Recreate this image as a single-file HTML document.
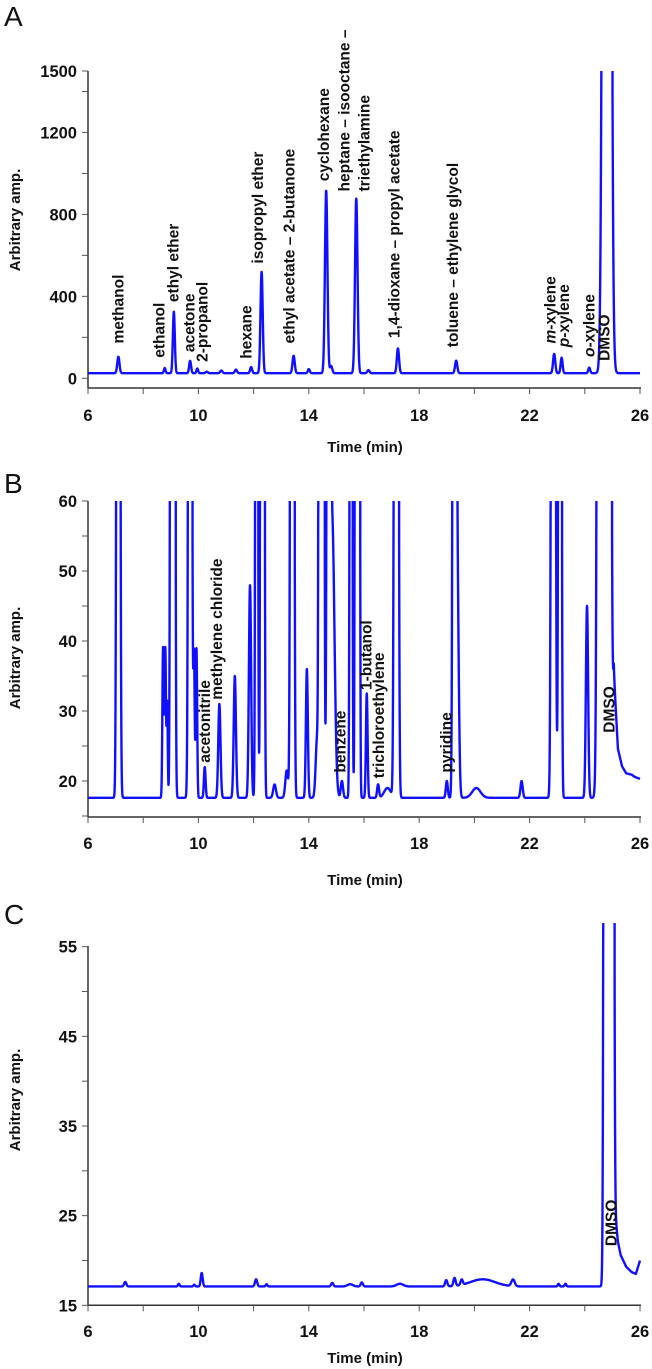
<!DOCTYPE html>
<html><head><meta charset="utf-8"><style>
html,body{margin:0;padding:0;background:#fff;}
svg{display:block;font-family:"Liberation Sans",Arial,sans-serif;}
.tl{font-weight:bold;font-size:16.5px;fill:#111;}
.pl{font-weight:bold;font-size:15.5px;fill:#111;}
.at{font-weight:bold;font-size:15px;fill:#111;}
</style></head><body>
<svg id="chart" width="652" height="1369" viewBox="0 0 652 1369">
<defs>
<clipPath id="clipA"><rect x="86" y="69" width="560" height="330"/></clipPath>
<clipPath id="clipB"><rect x="86" y="500" width="560" height="320"/></clipPath>
<clipPath id="clipC"><rect x="86" y="922" width="560" height="390"/></clipPath>
</defs>
<text x="4" y="26" font-size="28" fill="#111">A</text>
<text x="4" y="493" font-size="28" fill="#111">B</text>
<text x="4" y="924" font-size="28" fill="#111">C</text>
</svg>
<script>
// ---------- shared x axis ----------
const xTickValues = [6,8,10,12,14,16,18,20,22,24,26];
const xTickLabels = ["6","","10","","14","","18","","22","","26"];

// ---------- Panel A data ----------
const aBaseline = 25;
const aPeakTimes   = [7.10,8.78,9.11,9.70,9.96,10.3,10.83,11.36,11.91,12.29,13.45,14.0,14.63,14.81,15.72,16.16,17.23,19.34,22.89,23.16,24.16,24.8];
const aPeakHeights = [105,50,325,85,48,32,38,42,55,520,110,45,916,60,877,40,146,86,119,100,52,20000];
const aPeakWidths  = [0.04,0.03,0.035,0.035,0.03,0.04,0.04,0.04,0.035,0.04,0.04,0.035,0.045,0.04,0.045,0.04,0.04,0.04,0.04,0.035,0.035,0.088];
const aYTicks = [0,200,400,600,800,1000,1200,1400,1500];
const aYTickLabels = ["0","","400","","800","","1200","","1500"];
const aLabels = ["methanol","ethanol","ethyl ether","acetone","2-propanol","hexane","isopropyl ether","ethyl acetate – 2-butanone","cyclohexane","heptane – isooctane –","triethylamine","1,4-dioxane – propyl acetate","toluene – ethylene glycol","m-xylene","p-xylene","o-xylene","DMSO"];
const aLabelTimes = [7.13,8.61,9.11,9.69,10.17,11.76,12.18,13.31,14.56,15.32,16.04,17.13,19.25,22.76,23.24,24.17,24.74];
const aLabelValues = [170,100,372,128,80,95,560,170,962,912,912,196,152,170,152,104,85];

// ---------- Panel B data ----------
const bBaseline = 17.6;
const bPeakTimes   = [7.10,8.72,8.80,8.87,9.07,9.70,9.84,9.93,10.23,10.76,11.32,11.87,12.11,12.32,12.76,13.20,13.40,13.93,14.30,14.46,14.72,14.85,15.20,15.53,15.76,16.10,16.51,16.85,17.17,19.00,19.28,19.38,20.07,21.71,22.86,23.10,24.08,24.70];
const bPeakHeights = [400,39,39,31,1500,400,38,39,22,31,35,48,300,1200,19.5,21.5,500,36,26,3000,400,57,20,300,3000,32.5,19.5,19,500,20,400,50,19,20,500,400,45,20000];
const bPeakWidths  = [0.04,0.025,0.025,0.02,0.04,0.04,0.025,0.025,0.03,0.04,0.04,0.04,0.03,0.035,0.05,0.05,0.04,0.035,0.05,0.04,0.04,0.08,0.04,0.03,0.035,0.03,0.035,0.12,0.045,0.035,0.04,0.05,0.15,0.04,0.045,0.035,0.04,0.08];
const bTailTimes  = [24.95,25.05,25.2,25.35,25.5,25.7,25.8,26.0];
const bTailValues = [0,18,7,4.5,3.5,3.3,3.0,2.7];
const bYTicks = [15,20,25,30,35,40,45,50,55,60];
const bYTickLabels = ["","20","","30","","40","","50","","60"];
const bLabels = ["acetonitrile","methylene chloride","benzene","1-butanol","trichloroethylene","pyridine","DMSO"];
const bLabelTimes = [10.25,10.70,15.17,16.10,16.56,19.01,24.91];
const bLabelValues = [22.6,31.6,21.2,33.0,20.4,21.2,26.9];

// ---------- Panel C data ----------
const cBaseline = 17.1;
const cPeakTimes   = [7.35,9.29,9.85,10.12,12.09,12.47,14.85,15.5,15.92,17.3,18.98,19.28,19.54,20.3,21.4,23.05,23.3,24.87];
const cPeakHeights = [17.6,17.4,17.3,18.6,17.9,17.35,17.5,17.35,17.55,17.4,17.8,18.0,17.7,17.9,17.85,17.4,17.4,20000];
const cPeakWidths  = [0.04,0.03,0.03,0.035,0.04,0.03,0.04,0.1,0.04,0.12,0.04,0.04,0.04,0.45,0.06,0.03,0.03,0.058];
const cTailTimes  = [25.0,25.1,25.2,25.3,25.5,25.7,25.85,26.0];
const cTailValues = [0,8,5,3.5,2.2,1.6,1.4,2.9];
const cYTicks = [15,20,25,30,35,40,45,50,55];
const cYTickLabels = ["15","","25","","35","","45","","55"];
const cLabels = ["DMSO"];
const cLabelTimes = [24.98];
const cLabelValues = [21.6];

const NS = "http://www.w3.org/2000/svg";
const svg = document.getElementById('chart');
function mk(tag, attrs, parent){
  const e = document.createElementNS(NS, tag);
  for (const k in attrs) e.setAttribute(k, attrs[k]);
  (parent||svg).appendChild(e);
  return e;
}
const X0 = 88, X1 = 640;
function xs(t){ return X0 + (t-6)/(26-6)*(X1-X0); }

function interp(ts, vs, t){
  if (t <= ts[0] || t >= ts[ts.length-1]) return t>=ts[ts.length-1]?vs[vs.length-1]:0;
  for (let i=1;i<ts.length;i++){ if (t<=ts[i]){ const f=(t-ts[i-1])/(ts[i]-ts[i-1]); return vs[i-1]+f*(vs[i]-vs[i-1]); } }
  return 0;
}

function panel(p){
  const ys = v => p.yBot + (v - p.vBot)/(p.vTop - p.vBot)*(p.yTop - p.yBot);
  const g = mk('g', {});
  
  
  const ya = mk('line', {x1:X0, y1:p.axisTop, x2:X0, y2:p.axisBot, stroke:'#333', 'stroke-width':1.5}, g);
  
  
  const xa = mk('line', {x1:X0, y1:p.axisBot, x2:X1+1, y2:p.axisBot, stroke:'#333', 'stroke-width':1.5}, g);
  
  
  p.yTicks.forEach((v,i)=>{
    const y = ys(v);
    const tk = mk('line', {x1:X0-6, y1:y, x2:X0, y2:y, stroke:'#555', 'stroke-width':1}, g);
    
    
    if (p.yTickLabels[i]) {
      const tl = mk('text', {x:X0-11, y:y+6, 'text-anchor':'end', class:'tl'}, g);
      tl.textContent = p.yTickLabels[i];
      
      
    }
  });
  xTickValues.forEach((v,i)=>{
    const x = xs(v);
    const tk = mk('line', {x1:x, y1:p.axisBot, x2:x, y2:p.axisBot+6, stroke:'#555', 'stroke-width':1}, g);
    
    
    if (xTickLabels[i]) {
      const tl = mk('text', {x:x, y:p.xLabY, 'text-anchor':'middle', class:'tl'}, g);
      tl.textContent = xTickLabels[i];
      
      
    }
  });
  const xt = mk('text', {x:365, y:p.xTitleY, 'text-anchor':'middle', class:'at'}, g);
  xt.textContent = 'Time (min)';
  
  
  const yt = mk('text', {x:0, y:0, 'text-anchor':'middle', class:'at', transform:`translate(20,${p.yTitleY}) rotate(-90)`}, g);
  yt.textContent = 'Arbitrary amp.';
  
  
  // trace (pen lifts where the signal goes off-scale)
  let d = '', penUp = true, prevX = null, prevY = null;
  for (let t=6; t<=26.0001; t+=0.004){
    let v = p.base;
    for (let i=0;i<p.times.length;i++){
      const z = (t-p.times[i])/p.widths[i];
      if (Math.abs(z) < 8) v += (p.heights[i]-p.base)*Math.exp(-0.5*z*z);
    }
    if (p.tailT) v += interp(p.tailT, p.tailV, t);
    const x = xs(t), y = ys(v);
    if (y < p.clipTop) {
      if (!penUp) { d += 'L' + x.toFixed(2) + ' ' + p.clipTop.toFixed(2); }
      penUp = true;
    } else {
      if (penUp) {
        d += (prevX === null ? 'M' + x.toFixed(2) + ' ' + y.toFixed(2) : 'M' + x.toFixed(2) + ' ' + p.clipTop.toFixed(2) + 'L' + x.toFixed(2) + ' ' + y.toFixed(2));
        penUp = false;
      } else d += 'L' + x.toFixed(2) + ' ' + y.toFixed(2);
    }
    prevX = x; prevY = y;
  }
  const tr = mk('path', {d:d, fill:'none', stroke:'#1010ff', 'stroke-width':2.4, 'stroke-linejoin':'round', 'clip-path':`url(#${p.clip})`}, g);
  
  
  p.labels.forEach((s,i)=>{
    const x = xs(p.labelTimes[i]), y = ys(p.labelValues[i]);
    const tl = mk('text', {x:0, y:0, class:'pl', 'dominant-baseline':'central', transform:`translate(${x.toFixed(1)},${y.toFixed(1)}) rotate(-90)`}, g);
    if (s === 'm-xylene' || s === 'p-xylene' || s === 'o-xylene') {
      const it = mk('tspan', {'font-style':'italic'}, tl); it.textContent = s[0];
      const rest = mk('tspan', {}, tl); rest.textContent = s.slice(1);
    } else tl.textContent = s;
    
    
  });
}

panel({name:'panel-a', vBot:0, vTop:1500, yBot:378.3, yTop:71, axisTop:71, axisBot:388, clipTop:71, clip:'clipA',
  base:aBaseline, times:aPeakTimes, heights:aPeakHeights, widths:aPeakWidths,
  yTicks:aYTicks, yTickLabels:aYTickLabels, xLabY:421, xTitleY:452, yTitleY:220,
  labels:aLabels, labelTimes:aLabelTimes, labelValues:aLabelValues});
panel({name:'panel-b', vBot:20, vTop:60, yBot:781, yTop:501, axisTop:501, axisBot:817, clipTop:501, clip:'clipB',
  base:bBaseline, times:bPeakTimes, heights:bPeakHeights, widths:bPeakWidths, tailT:bTailTimes, tailV:bTailValues,
  yTicks:bYTicks, yTickLabels:bYTickLabels, xLabY:849, xTitleY:885, yTitleY:658,
  labels:bLabels, labelTimes:bLabelTimes, labelValues:bLabelValues});
panel({name:'panel-c', vBot:15, vTop:55, yBot:1305.3, yTop:946.7, axisTop:946, axisBot:1305.3, clipTop:923, clip:'clipC',
  base:cBaseline, times:cPeakTimes, heights:cPeakHeights, widths:cPeakWidths, tailT:cTailTimes, tailV:cTailValues,
  yTicks:cYTicks, yTickLabels:cYTickLabels, xLabY:1337, xTitleY:1363, yTitleY:1100,
  labels:cLabels, labelTimes:cLabelTimes, labelValues:cLabelValues});
</script>
</body></html>
